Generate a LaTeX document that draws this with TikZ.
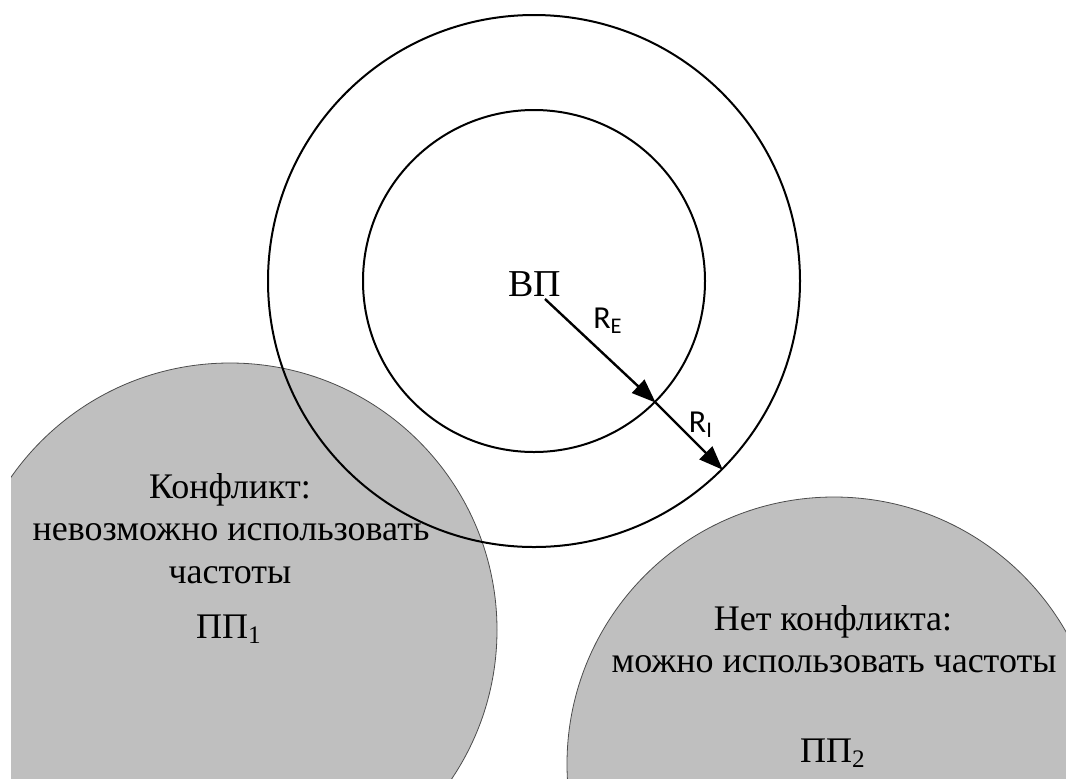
\documentclass[tikz,border=0pt]{standalone}
\usepackage{fontspec}
\setmainfont{Liberation Serif}
\newfontfamily\labelfont{Carlito}
\usetikzlibrary{arrows.meta,positioning}

\begin{document}
\begin{tikzpicture}[
    x=0.5pt, y=-0.5pt,
    zone/.style={circle, draw, line width=1pt, inner sep=0pt},
    cell/.style={circle, draw=black!70, line width=0.4pt, fill=black!25,
                 inner sep=0pt, minimum size=267pt},
    caption/.style={anchor=base, inner sep=0pt, font=\fontsize{18}{21}\selectfont},
    rlabel/.style={inner sep=0pt, font=\labelfont\fontsize{16}{19}\selectfont},
    arrow/.style={-{Triangle[length=12pt,width=9pt]}, line width=1.2pt}
  ]
    \useasboundingbox (0,0) rectangle (1066,778);

    % neighbouring cells
    \begin{scope}
      \clip (11,0) rectangle (1066,778);
      \node[cell] (pp1) at (230,630) {};
      \node[cell] (pp2) at (834,764) {};
    \end{scope}

    % zones around the base station
    \node[zone, minimum size=266pt] (outer) at (534,281) {};
    \node[zone, minimum size=171pt] (inner) at (534,281) {};
    \node[inner sep=0pt, font=\fontsize{19}{22}\selectfont] (vp) at (535,284) {ВП};

    \coordinate (src) at (545,299);
    \draw[arrow] (src) -- (inner.-45);
    \draw[arrow] (inner.-45) -- (outer.-45);
    \node[rlabel] (re) at (608,321) {R\textsubscript{E}};
    \node[rlabel] (ri) at (701,425) {R\textsubscript{I}};

    % captions
    \node[caption] (c1) at (230,498) {Конфликт:};
    \node[caption] (c2) at (231,540) {невозможно использовать};
    \node[caption] (c3) at (230,583) {частоты};
    \node[caption] (c4) at (229,638) {ПП\textsubscript{1}};

    \node[caption] (n1) at (833,630) {Нет конфликта:};
    \node[caption] (n2) at (834,672) {можно использовать частоты};
    \node[caption] (n3) at (833,762) {ПП\textsubscript{2}};
\end{tikzpicture}
\end{document}
